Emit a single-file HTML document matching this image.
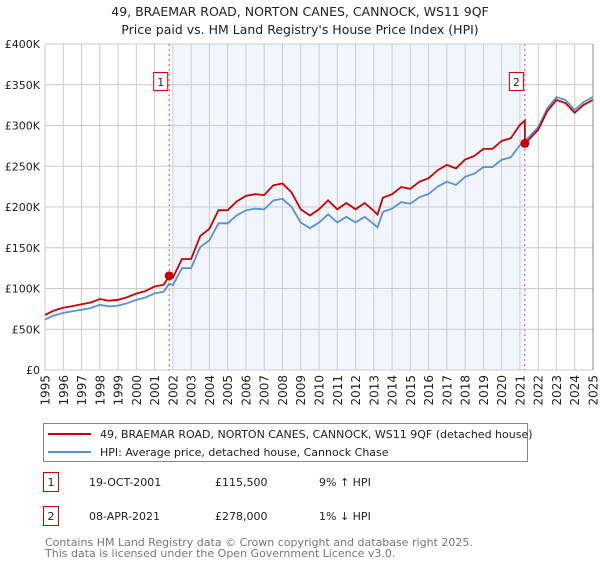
<!DOCTYPE html>
<html><head><meta charset="utf-8"><style>
body{margin:0;background:#fff;font-family:"DejaVu Sans","Liberation Sans",sans-serif;}
svg text{font-family:"DejaVu Sans","Liberation Sans",sans-serif;}
</style></head><body>
<svg id="chart" width="600" height="560" xmlns="http://www.w3.org/2000/svg">
<text x="300" y="16" font-size="12.5" text-anchor="middle" fill="#222">49, BRAEMAR ROAD, NORTON CANES, CANNOCK, WS11 9QF</text>
<text x="300" y="34" font-size="12.5" text-anchor="middle" fill="#222">Price paid vs. HM Land Registry's House Price Index (HPI)</text>
<g id="plot"></g>
<g>
<rect x="43.5" y="423.5" width="484" height="38" fill="#fff" stroke="#888"/>
<line x1="48" y1="434" x2="91" y2="434" stroke="#cc0000" stroke-width="2"/>
<text x="100" y="438" font-size="11" fill="#222">49, BRAEMAR ROAD, NORTON CANES, CANNOCK, WS11 9QF (detached house)</text>
<line x1="48" y1="452" x2="91" y2="452" stroke="#5b8fd6" stroke-width="2"/>
<text x="100" y="456" font-size="11" fill="#222">HPI: Average price, detached house, Cannock Chase</text>
</g>
<g font-size="11" fill="#222">
<rect x="43.5" y="472.5" width="15" height="19" fill="#fff" stroke="#cc0000"/>
<text x="51" y="486" text-anchor="middle">1</text>
<text x="89" y="486">19-OCT-2001</text>
<text x="215" y="486">£115,500</text>
<text x="319" y="486">9% ↑ HPI</text>
<rect x="43.5" y="506.5" width="15" height="19" fill="#fff" stroke="#cc0000"/>
<text x="51" y="520" text-anchor="middle">2</text>
<text x="89" y="520">08-APR-2021</text>
<text x="215" y="520">£278,000</text>
<text x="319" y="520">1% ↓ HPI</text>
</g>
<text x="45" y="546" font-size="11" fill="#777">Contains HM Land Registry data © Crown copyright and database right 2025.</text>
<text x="45" y="557" font-size="11" fill="#777">This data is licensed under the Open Government Licence v3.0.</text>
</svg>
<script>
const years=[1995,1995.5,1996,1996.5,1997,1997.5,1998,1998.5,1999,1999.5,2000,2000.5,2001,2001.5,2001.8,2002,2002.5,2003,2003.5,2004,2004.5,2005,2005.5,2006,2006.5,2007,2007.5,2008,2008.5,2009,2009.5,2010,2010.5,2011,2011.5,2012,2012.5,2013,2013.2,2013.5,2014,2014.5,2015,2015.5,2016,2016.5,2017,2017.5,2018,2018.5,2019,2019.5,2020,2020.5,2021,2021.27,2021.5,2022,2022.5,2023,2023.5,2024,2024.5,2025];
const hpi=[62,67,70,72,74,76,80,78,79,82,86,89,94,96,106,104,125,125,151,159,180,180,190,196,198,197,208,210,200,181,174,181,191,181,188,181,188,179,175,194,198,206,204,212,216,225,231,227,237,241,249,249,258,261,276,281,286,298,321,335,331,319,329,335];
const saleYears=[2001.8,2021.27];
const salePrices=[115.5,278];
const yTicks=[0,50,100,150,200,250,300,350,400];
const xTicks=[1995,1996,1997,1998,1999,2000,2001,2002,2003,2004,2005,2006,2007,2008,2009,2010,2011,2012,2013,2014,2015,2016,2017,2018,2019,2020,2021,2022,2023,2024,2025];
const NS='http://www.w3.org/2000/svg';
const X0=45,X1=593,Y0=370,Y1=44;
const x=v=>X0+(v-1995)/30*(X1-X0);
const y=v=>Y0-v/400*(Y0-Y1);
const g=document.getElementById('plot');
function mk(t,a){const e=document.createElementNS(NS,t);for(const k in a)e.setAttribute(k,a[k]);g.appendChild(e);return e;}
const shade=mk('rect',{x:x(saleYears[0])+4,y:Y1,width:x(saleYears[1])-x(saleYears[0])-4,height:Y0-Y1,fill:'#eef3fc',opacity:0.8});


xTicks.forEach(t=>{
 const l=mk('line',{x1:x(t),x2:x(t),y1:Y1,y2:Y0,stroke:'#ccc'});
 
 
 const px=x(t)+4.5, py=Y0+5;
 const tx=mk('text',{x:px,y:py,'font-size':12,fill:'#222','text-anchor':'end',transform:'rotate(-90 '+px+' '+py+')'});
 tx.textContent=t;
 
 
});
yTicks.forEach(t=>{
 const l=mk('line',{x1:X0,x2:X1,y1:y(t),y2:y(t),stroke:'#ccc'});
 
 
 const tx=mk('text',{x:40,y:y(t)+4,'font-size':11,fill:'#222','text-anchor':'end'});
 tx.textContent=t===0?'£0':'£'+t+'K';
 
 
});
saleYears.forEach((s,i)=>{
 const l=mk('line',{x1:x(s),x2:x(s),y1:Y1,y2:Y0,stroke:'#e05050','stroke-dasharray':'2,3'});
 
 
 const r=mk('rect',{x:x(s)-15.5,y:72.5,width:14,height:18,fill:'#fff',stroke:'#cc0000'});
 
 
 const t=mk('text',{x:x(s)-8.5,y:86,'font-size':11,'text-anchor':'middle',fill:'#222'});
 t.textContent=i+1;
 
 
});
const hpiAt=s=>{for(let i=0;i<years.length-1;i++){if(s>=years[i]&&s<=years[i+1]){const f=(s-years[i])/(years[i+1]-years[i]);return hpi[i]+f*(hpi[i+1]-hpi[i]);}}return hpi[hpi.length-1];};
const r1=salePrices[0]/hpiAt(saleYears[0]), r2=salePrices[1]/hpiAt(saleYears[1]);
const hp=years.map((yr,i)=>`${x(yr).toFixed(1)},${y(hpi[i]).toFixed(1)}`).join(' ');
const hl=mk('polyline',{points:hp,fill:'none',stroke:'#5b8fd6','stroke-width':1.8});


const rp=[];
years.forEach((yr,i)=>{
 if(yr<saleYears[1]) rp.push([yr,hpi[i]*r1]);
 else if(yr===saleYears[1]){rp.push([yr,hpi[i]*r1]);rp.push([yr,hpi[i]*r2]);}
 else rp.push([yr,hpi[i]*r2]);
});
const pl=mk('polyline',{points:rp.map(p=>`${x(p[0]).toFixed(1)},${y(p[1]).toFixed(1)}`).join(' '),fill:'none',stroke:'#cc0000','stroke-width':1.8});


saleYears.forEach((s,i)=>{
 const c=mk('circle',{cx:x(s),cy:y(salePrices[i]),r:4.5,fill:'#cc0000'});
 
 
});
const ax=mk('line',{x1:X1,x2:X1,y1:Y1,y2:Y0,stroke:'#888'});


</script>
</body></html>
